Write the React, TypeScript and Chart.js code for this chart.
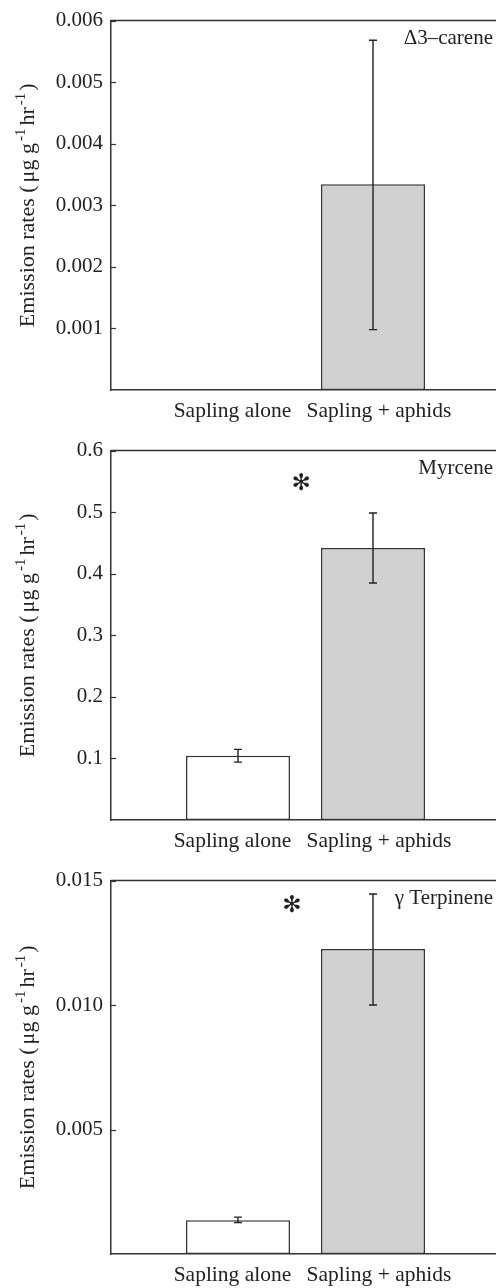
import React, { useEffect, useRef } from "react";
import { Chart, registerables } from "chart.js";

Chart.register(...registerables);

const categories = ["Sapling alone", "Sapling + aphids"];
// where each category label is centred on the x scale (bars sit at 1 and 2)
const labelPositions = [0.959, 2.044];

const careneValues = [0, 0.00334];
const careneLow = [null, 0.00098];
const careneHigh = [null, 0.00568];
const careneTicks = [0.001, 0.002, 0.003, 0.004, 0.005, 0.006];

const myrceneValues = [0.1045, 0.4416];
const myrceneLow = [0.094, 0.385];
const myrceneHigh = [0.1147, 0.4987];
const myrceneTicks = [0.1, 0.2, 0.3, 0.4, 0.5, 0.6];

const terpValues = [0.001357, 0.01225];
const terpLow = [0.00126, 0.01];
const terpHigh = [0.00148, 0.01446];
const terpTicks = [0.005, 0.01, 0.015];

const FONT = "'Liberation Serif', 'Times New Roman', serif";
const INK = "#222";
const AXIS = "#333";

type Panel = {
  name: string;
  values: number[];
  low: (number | null)[];
  high: (number | null)[];
  ticks: number[];
  max: number;
  decimals: number;
  star: { x: number; y: number } | null;
  height: number;
  top: number;
  bottom: number;
};

const panels: Panel[] = [
  { name: "Δ3–carene", values: careneValues, low: careneLow, high: careneHigh, ticks: careneTicks, max: 0.006, decimals: 3, star: null, height: 430, top: 18, bottom: 390 },
  { name: "Myrcene", values: myrceneValues, low: myrceneLow, high: myrceneHigh, ticks: myrceneTicks, max: 0.6, decimals: 1, star: { x: 1.467, y: 0.5456 }, height: 430, top: 15, bottom: 390 },
  { name: "γ Terpinene", values: terpValues, low: terpLow, high: terpHigh, ticks: terpTicks, max: 0.015, decimals: 3, star: { x: 1.4, y: 0.01397 }, height: 428, top: 18, bottom: 394 },
];

function makePlugin(p: Panel) {
  return {
    id: "decor",
    afterDatasetsDraw(chart: any) {
      const ctx = chart.ctx;
      const area = chart.chartArea;
      const xs = chart.scales.x;
      const ys = chart.scales.y;
      ctx.save();
      // top border
      ctx.strokeStyle = AXIS;
      ctx.lineWidth = 1.5;
      ctx.beginPath();
      ctx.moveTo(area.left, area.top);
      ctx.lineTo(area.right, area.top);
      ctx.stroke();
      // inside tick marks
      ctx.lineWidth = 1.2;
      p.ticks.forEach((t) => {
        const y = Math.round(ys.getPixelForValue(t)) + 0.5;
        ctx.beginPath();
        ctx.moveTo(area.left, y);
        ctx.lineTo(area.left + 5, y);
        ctx.stroke();
      });
      // error bars
      ctx.strokeStyle = INK;
      ctx.lineWidth = 1.4;
      p.values.forEach((_, i) => {
        const lo = p.low[i];
        const hi = p.high[i];
        if (lo == null || hi == null) return;
        const x = xs.getPixelForValue(i + 1);
        const y1 = ys.getPixelForValue(lo);
        const y2 = ys.getPixelForValue(hi);
        ctx.beginPath();
        ctx.moveTo(x, y1);
        ctx.lineTo(x, y2);
        ctx.moveTo(x - 4, y1);
        ctx.lineTo(x + 4, y1);
        ctx.moveTo(x - 4, y2);
        ctx.lineTo(x + 4, y2);
        ctx.stroke();
      });
      // compound name
      ctx.fillStyle = INK;
      ctx.font = `21px ${FONT}`;
      ctx.textAlign = "right";
      ctx.textBaseline = "middle";
      ctx.fillText(p.name, area.right - 3, area.top + 18);
      // significance star
      if (p.star) {
        ctx.font = `bold 23px 'DejaVu Sans'`;
        ctx.textAlign = "center";
        ctx.fillText("✻", xs.getPixelForValue(p.star.x), ys.getPixelForValue(p.star.y));
      }
      // y title with superscripts: [text, isSuperscript, gapAfter]
      const parts: [string, boolean, number][] = [
        ["Emission rates (", false, 3],
        ["μg g", false, 2],
        ["-1", true, 3],
        ["hr", false, 2],
        ["-1", true, 2],
        [")", false, 0],
      ];
      const big = `22px ${FONT}`;
      const small = `15px ${FONT}`;
      let total = 0;
      parts.forEach(([s, sup, gap]) => {
        ctx.font = sup ? small : big;
        total += ctx.measureText(s).width + gap;
      });
      ctx.translate(28, (area.top + area.bottom) / 2);
      ctx.rotate(-Math.PI / 2);
      ctx.textAlign = "left";
      ctx.textBaseline = "middle";
      let cx = -total / 2;
      parts.forEach(([s, sup, gap]) => {
        ctx.font = sup ? small : big;
        ctx.fillText(s, cx, sup ? -7 : 0);
        cx += ctx.measureText(s).width + gap;
      });
      ctx.restore();
    },
  };
}

function PanelChart({ p }: { p: Panel }) {
  const ref = useRef<HTMLCanvasElement | null>(null);
  useEffect(() => {
    if (!ref.current) return;
    const chart = new Chart(ref.current, {
      type: "bar",
      data: {
        datasets: [
          {
            data: p.values.map((v, i) => ({ x: i + 1, y: v })),
            backgroundColor: ["#ffffff", "#cfd0cf"],
            borderColor: AXIS,
            borderWidth: 1.5,
            borderSkipped: false,
            barPercentage: 0.77,
            categoryPercentage: 1,
          } as any,
        ],
      },
      options: {
        animation: false,
        responsive: false,
        devicePixelRatio: 1,
        layout: { padding: { top: p.top, left: 0, right: 0, bottom: 0 } },
        plugins: { legend: { display: false }, tooltip: { enabled: false } },
        scales: {
          x: {
            type: "linear",
            offset: false,
            min: 0.0593,
            max: 2.911,
            grid: { display: false, drawTicks: false, offset: false },
            border: { display: true, color: AXIS, width: 1.5 },
            afterBuildTicks: (s: any) => {
              s.ticks = labelPositions.map((v) => ({ value: v }));
            },
            afterFit: (s: any) => {
              s.height = p.height - p.bottom;
            },
            ticks: {
              padding: 8,
              color: INK,
              font: { family: FONT, size: 21.5 },
              maxRotation: 0,
              autoSkip: false,
              callback: (_v: any, i: number) => categories[i] ?? "",
            },
          },
          y: {
            type: "linear",
            min: 0,
            max: p.max,
            grid: { display: false, drawTicks: false },
            border: { display: true, color: AXIS, width: 1.5 },
            afterBuildTicks: (s: any) => {
              s.ticks = p.ticks.map((t) => ({ value: t }));
            },
            afterFit: (s: any) => {
              s.width = 111;
            },
            ticks: {
              padding: 8,
              color: INK,
              font: { family: FONT, size: 21 },
              callback: (v: any) => Number(v).toFixed(p.decimals),
            },
          },
        },
      } as any,
      plugins: [makePlugin(p)],
    });
    return () => chart.destroy();
  }, [p]);
  return <canvas ref={ref} width={496} height={p.height} style={{ display: "block" }} />;
}

export default function App() {
  useEffect(() => {
    document.body.style.margin = "0";
    document.body.style.background = "#ffffff";
  }, []);
  return (
    <div style={{ width: 496, background: "#fff" }}>
      {panels.map((p) => (
        <PanelChart key={p.name} p={p} />
      ))}
    </div>
  );
}
